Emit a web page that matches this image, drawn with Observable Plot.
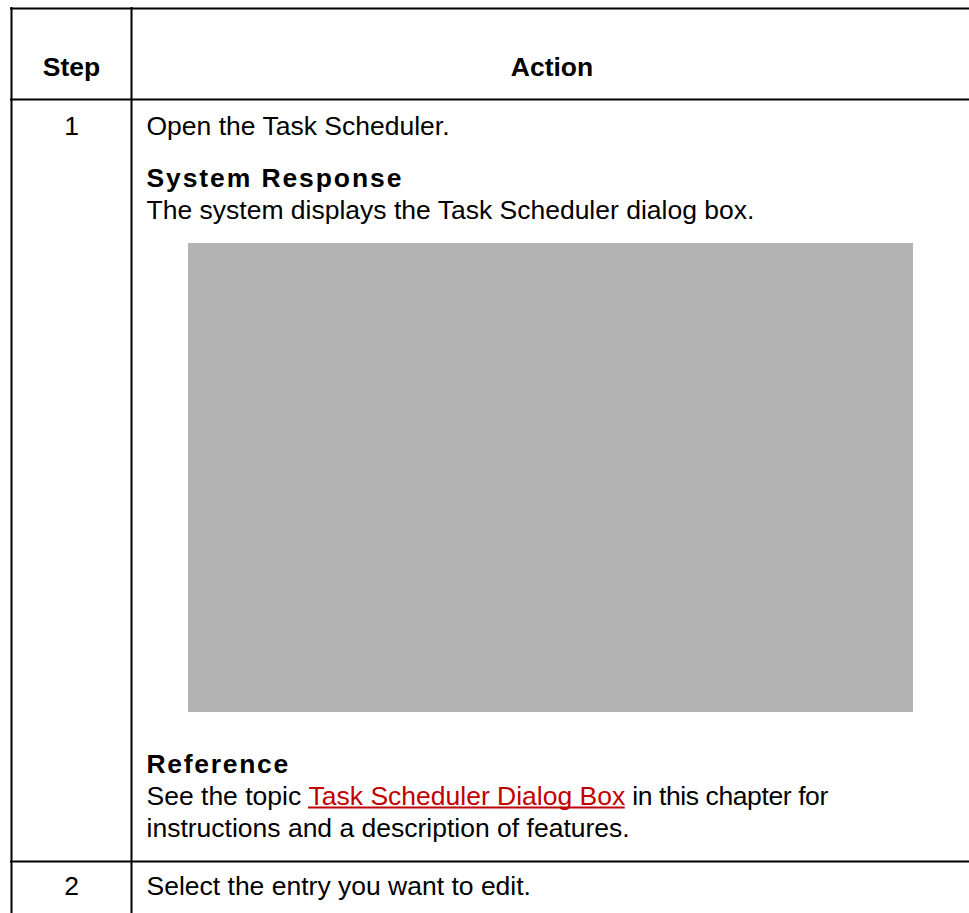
<!DOCTYPE html>
<html>
<head>
<meta charset="utf-8">
<script src="https://cdn.jsdelivr.net/npm/d3@7"></script>
<script src="https://cdn.jsdelivr.net/npm/@observablehq/plot@0.6"></script>
<style>
  html, body { margin: 0; padding: 0; background: #fff; }
  svg { display: block; }
</style>
</head>
<body>
<div id="chart"></div>
<script>
// ---- content ----
const headers = ["Step", "Action"];
const steps = ["1", "2"];
const actions = ["Open the Task Scheduler.", "Select the entry you want to edit."];
const subheads = ["System Response", "Reference"];
const responseText = ["The system displays the Task Scheduler dialog box."];
const referencePre = "See the topic ";
const referenceLink = "Task Scheduler Dialog Box";
const referencePost = " in this chapter for";
const referenceLine2 = "instructions and a description of features.";

// ---- layout ----
const W = 969, H = 913;
const FONT = "Liberation Sans, Arial, Helvetica, sans-serif";
const FS = 26.5;
const left = 11, colDiv = 131, right = 972;
const topY = 8, headBottom = 99, rowLine = 861;
const stepX = (left + colDiv) / 2, actionX = (colDiv + right) / 2, textX = 146;

const canvas = document.createElement("canvas");
const ctx = canvas.getContext("2d");
ctx.font = `${FS}px ${FONT}`;
const preW = ctx.measureText(referencePre).width;
const linkW = ctx.measureText(referenceLink).width;

const texts = [
  {t: headers[0], x: stepX, y: 75, a: "middle", w: "bold", c: "#000", ls: 0},
  {t: headers[1], x: actionX, y: 75, a: "middle", w: "bold", c: "#000", ls: 0},
  {t: steps[0], x: stepX, y: 134, a: "middle", w: "normal", c: "#000", ls: 0},
  {t: actions[0], x: textX, y: 134, a: "start", w: "normal", c: "#000", ls: 0},
  {t: subheads[0], x: textX, y: 186, a: "start", w: "bold", c: "#000", ls: 1.9},
  {t: responseText[0], x: textX, y: 218, a: "start", w: "normal", c: "#000", ls: 0},
  {t: subheads[1], x: textX, y: 772, a: "start", w: "bold", c: "#000", ls: 1.7},
  {t: referencePre, x: textX, y: 804, a: "start", w: "normal", c: "#000", ls: 0},
  {t: referenceLink, x: textX + preW, y: 804, a: "start", w: "normal", c: "#c00000", ls: 0},
  {t: referencePost, x: textX + preW + linkW, y: 804, a: "start", w: "normal", c: "#000", ls: -0.4},
  {t: referenceLine2, x: textX, y: 836, a: "start", w: "normal", c: "#000", ls: 0},
  {t: steps[1], x: stepX, y: 894, a: "middle", w: "normal", c: "#000", ls: 0},
  {t: actions[1], x: textX, y: 894, a: "start", w: "normal", c: "#000", ls: 0}
];

const hLines = [
  {x1: left - 1, x2: right, y: topY},
  {x1: left - 1, x2: right, y: headBottom},
  {x1: left - 1, x2: right, y: rowLine}
];
const vLines = [
  {x: left, y1: topY - 1, y2: H},
  {x: colDiv, y1: topY - 1, y2: H}
];
const image = [{x1: 188, x2: 913, y1: 243, y2: 712}];
const underline = [{x1: textX + preW, x2: textX + preW + linkW, y: 807}];

const chart = Plot.plot({
  width: W, height: H,
  margin: 0,
  x: {type: "linear", domain: [0, W], range: [0, W], axis: null},
  y: {type: "linear", domain: [0, H], range: [0, H], axis: null},
  style: {fontFamily: FONT, background: "#fff"},
  marks: [
    Plot.rect(image, {x1: "x1", x2: "x2", y1: "y1", y2: "y2", fill: "#b3b3b3"}),
    Plot.ruleY(hLines, {x1: "x1", x2: "x2", y: "y", stroke: "#000", strokeWidth: 2}),
    Plot.ruleX(vLines, {x: "x", y1: "y1", y2: "y2", stroke: "#000", strokeWidth: 2}),
    Plot.ruleY(underline, {x1: "x1", x2: "x2", y: "y", stroke: "#c00000", strokeWidth: 2}),
    Plot.text(texts, {x: "x", y: "y", text: "t", fill: "c", fontSize: FS, lineAnchor: "bottom"})
  ]
});
document.getElementById("chart").appendChild(chart);

// per-datum anchors / weights / letter spacing
d3.select(chart).selectAll('g[aria-label="text"] text').each(function(_, i) {
  const d = texts[i];
  if (!d) return;
  this.setAttribute("text-anchor", d.a === "middle" ? "middle" : "start");
  this.setAttribute("font-weight", d.w);
  if (d.ls) this.setAttribute("letter-spacing", d.ls + "px");
});
</script>
</body>
</html>
